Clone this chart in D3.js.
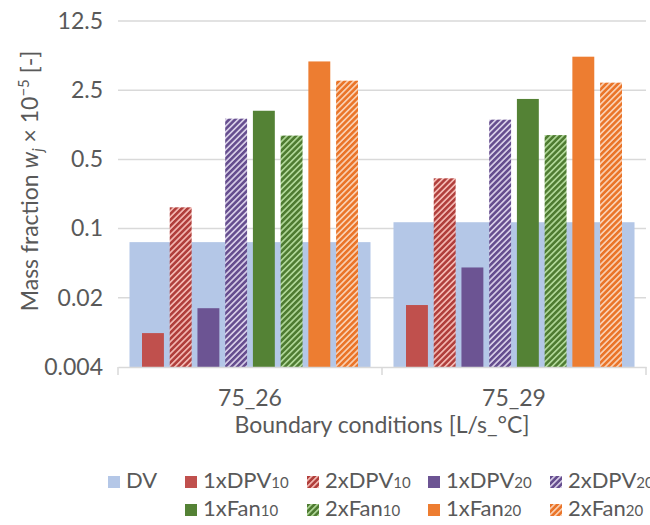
<!DOCTYPE html>
<html>
<head>
<meta charset="utf-8">
<script src="https://cdn.jsdelivr.net/npm/d3@7"></script>
<style>
  html, body { margin: 0; padding: 0; background: #fff; }
  svg { display: block; font-family: Lato, "Open Sans", sans-serif; }
</style>
</head>
<body>
<svg id="chart" width="650" height="525"></svg>
<script>
// -------------------------------------------------
// Data
// -------------------------------------------------
const categories = ["75_26", "75_29"];
const seriesNames = ["1xDPV10", "2xDPV10", "1xDPV20", "2xDPV20", "1xFan10", "2xFan10", "1xFan20", "2xFan20"];
const dvValues = [0.073, 0.116];
const seriesValues = {
  "1xDPV10": [0.0088, 0.0169],
  "2xDPV10": [0.164, 0.322],
  "1xDPV20": [0.0157, 0.0405],
  "2xDPV20": [1.29, 1.26],
  "1xFan10": [1.55, 2.04],
  "2xFan10": [0.87, 0.88],
  "1xFan20": [4.88, 5.45],
  "2xFan20": [3.12, 2.98],
};
const yTicks = [0.004, 0.02, 0.1, 0.5, 2.5, 12.5];

// colours: solid fill, or stripe pair for the "2x" series
const styles = {
  "DV": { fill: "#B4C7E7" },
  "1xDPV10": { fill: "#C0504D" },
  "2xDPV10": { dark: "#B03E3B", light: "#F2B6B0" },
  "1xDPV20": { fill: "#6C5493" },
  "2xDPV20": { dark: "#654D8E", light: "#D5CBE5" },
  "1xFan10": { fill: "#548235" },
  "2xFan10": { dark: "#4E7B31", light: "#AED596" },
  "1xFan20": { fill: "#ED7D31" },
  "2xFan20": { dark: "#EA7428", light: "#F9CEB0" },
};

// -------------------------------------------------
// Dimensions
// -------------------------------------------------
const margin = { top: 21, right: 4, bottom: 158, left: 118 };
const totalW = 650, totalH = 525;
const width = totalW - margin.left - margin.right;
const height = totalH - margin.top - margin.bottom;
const textColor = "#595959";
const gridColor = "#D9D9D9";
const axisFont = "23px";

const root = d3.select("#chart");

// stripe patterns
const defs = root.append("defs");
Object.entries(styles).forEach(([key, s]) => {
  if (!s.dark) return;
  const p = defs.append("pattern")
    .attr("id", "hatch-" + key)
    .attr("patternUnits", "userSpaceOnUse")
    .attr("width", 4.2)
    .attr("height", 4.2)
    .attr("patternTransform", "rotate(45)");
  p.append("rect").attr("width", 4.2).attr("height", 4.2).attr("fill", s.light);
  p.append("rect").attr("width", 2.5).attr("height", 4.2).attr("fill", s.dark);
});
const fillOf = (key) => styles[key].dark ? `url(#hatch-${key})` : styles[key].fill;

const svg = root.append("g")
  .attr("transform", `translate(${margin.left},${margin.top})`);

// -------------------------------------------------
// Scales
// -------------------------------------------------
const x0 = d3.scaleBand().domain(categories).range([0, width]).padding(0);
const x1 = d3.scaleBand()
  .domain(seriesNames)
  .range([24, x0.bandwidth() - 24])
  .paddingInner(0.21)
  .paddingOuter(0);
const xDV = d3.scaleBand().domain(["DV"]).range([0, x0.bandwidth()]).padding(0.0455);

const y = d3.scaleLog().base(5).domain([0.004, 12.5]).range([height, 0]);

// -------------------------------------------------
// Grid lines
// -------------------------------------------------
svg.append("g")
  .selectAll("line")
  .data(yTicks.slice(1))
  .enter()
  .append("line")
  .attr("x1", 0)
  .attr("x2", width)
  .attr("y1", (d) => y(d))
  .attr("y2", (d) => y(d))
  .attr("stroke", gridColor)
  .attr("stroke-width", 1.5);

// -------------------------------------------------
// Bars
// -------------------------------------------------
svg.append("g")
  .selectAll("rect")
  .data(categories)
  .enter()
  .append("rect")
  .attr("x", (c) => x0(c) + xDV("DV"))
  .attr("y", (c, i) => y(dvValues[i]))
  .attr("width", xDV.bandwidth())
  .attr("height", (c, i) => y(0.004) - y(dvValues[i]))
  .attr("fill", styles.DV.fill);

const groups = svg.append("g")
  .selectAll("g")
  .data(categories)
  .enter()
  .append("g")
  .attr("transform", (c) => `translate(${x0(c)},0)`);

groups.selectAll("rect")
  .data((c, i) => seriesNames.map((s) => ({ key: s, value: seriesValues[s][i] })))
  .enter()
  .append("rect")
  .attr("x", (d) => x1(d.key))
  .attr("y", (d) => y(d.value))
  .attr("width", x1.bandwidth())
  .attr("height", (d) => y(0.004) - y(d.value))
  .attr("fill", (d) => fillOf(d.key));

// -------------------------------------------------
// Axes
// -------------------------------------------------
const xAxisG = svg.append("g")
  .attr("transform", `translate(0,${height})`)
  .call(d3.axisBottom(x0).tickSize(0).tickPadding(23));
xAxisG.select(".domain")
  .attr("stroke", gridColor)
  .attr("stroke-width", 1.5);
xAxisG.selectAll("text")
  .attr("fill", textColor)
  .style("font-size", axisFont)
  .style("font-family", "Lato");

// category separator ticks
xAxisG.selectAll(".sep")
  .data([0, ...categories.map((c) => x0(c) + x0.bandwidth())])
  .enter()
  .append("line")
  .attr("x1", (d) => d)
  .attr("x2", (d) => d)
  .attr("y1", 0)
  .attr("y2", 8)
  .attr("stroke", gridColor)
  .attr("stroke-width", 1.5);

const yAxisG = svg.append("g")
  .call(d3.axisLeft(y).tickValues(yTicks).tickFormat((d) => String(d)).tickSize(0).tickPadding(15));
yAxisG.select(".domain").remove();
yAxisG.selectAll("text")
  .attr("fill", textColor)
  .style("font-size", axisFont)
  .style("font-family", "Lato");

// x axis title
svg.append("text")
  .attr("x", width / 2)
  .attr("y", height + 66)
  .attr("text-anchor", "middle")
  .attr("fill", textColor)
  .style("font-size", axisFont)
  .text("Boundary conditions [L/s_°C]");

// y axis title
const yTitle = root.append("text")
  .attr("transform", `translate(38,${margin.top + 160}) rotate(-90)`)
  .attr("text-anchor", "middle")
  .attr("fill", textColor)
  .style("font-size", axisFont);
yTitle.append("tspan").text("Mass fraction ");
yTitle.append("tspan").style("font-style", "italic").text("w");
yTitle.append("tspan").style("font-style", "italic").style("font-size", "15px").attr("dy", 5).text("j");
yTitle.append("tspan").attr("dy", -5).text(" × 10");
yTitle.append("tspan").style("font-size", "15px").attr("dy", -9).text("−5");
yTitle.append("tspan").attr("dy", 9).text(" [-]");

// -------------------------------------------------
// Legend
// -------------------------------------------------
const legendItems = ["DV", ...seriesNames];
const colX = [108, 185, 307, 428, 550];
const rowY = [488, 516];

const legend = root.append("g");
legendItems.forEach((key, i) => {
  const col = i < 5 ? i : i - 4;
  const row = i < 5 ? 0 : 1;
  const g = legend.append("g").attr("transform", `translate(${colX[col]},${rowY[row]})`);
  g.append("rect")
    .attr("x", 0)
    .attr("y", -12)
    .attr("width", 12)
    .attr("height", 12)
    .attr("fill", fillOf(key));
  const t = g.append("text")
    .attr("x", 18)
    .attr("y", 0)
    .attr("fill", textColor)
    .style("font-size", "22px");
  const m = key.match(/^(.*?)(\d+)$/);
  if (m && key !== "DV") {
    t.append("tspan").text(m[1]);
    t.append("tspan").style("font-size", "15px").text(m[2]);
  } else {
    t.text(key);
  }
});
</script>
</body>
</html>
